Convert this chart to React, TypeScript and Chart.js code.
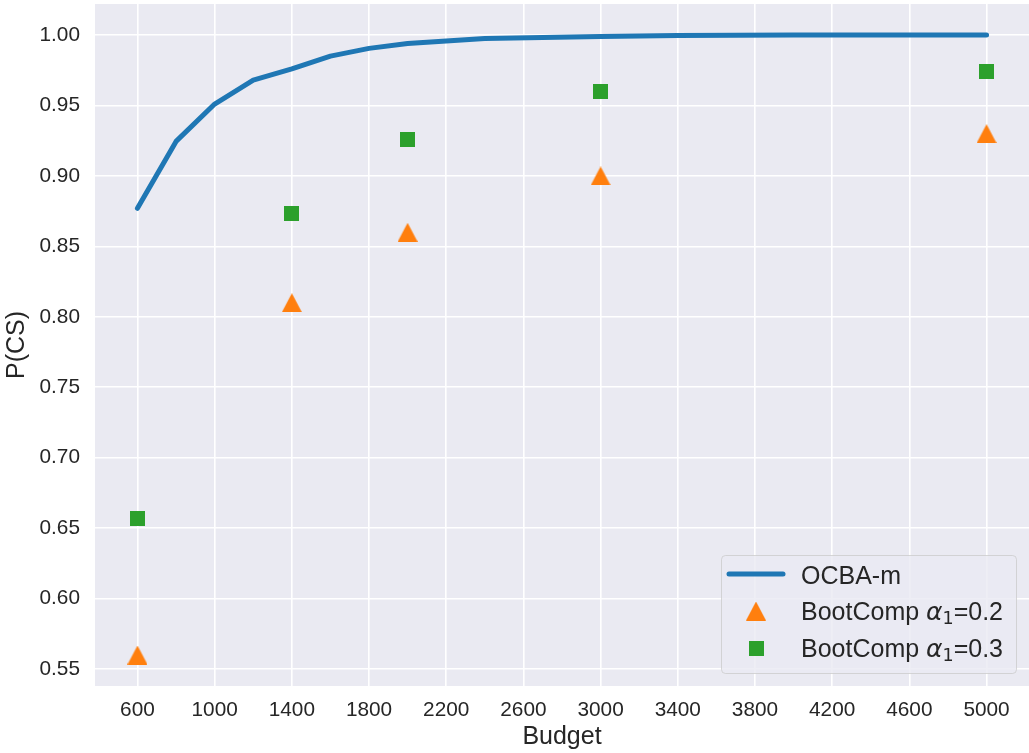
import React, { useEffect, useRef } from 'react';
import { Chart, registerables } from 'chart.js';

Chart.register(...registerables);

// ---- data ----
const ocbaBudgets = [600, 800, 1000, 1200, 1400, 1600, 1800, 2000, 2400, 3000, 3400, 4000, 5000];
const ocbaValues = [0.877, 0.9245, 0.951, 0.968, 0.976, 0.985, 0.9905, 0.994, 0.9975, 0.999, 0.9997, 1.0, 1.0];
const bootBudgets = [600, 1400, 2000, 3000, 5000];
const bootAlpha02 = [0.56, 0.81, 0.86, 0.9, 0.93];
const bootAlpha03 = [0.657, 0.873, 0.926, 0.96, 0.974];

const xTickValues = [600, 1000, 1400, 1800, 2200, 2600, 3000, 3400, 3800, 4200, 4600, 5000];
const xTickLabels = ['600', '1000', '1400', '1800', '2200', '2600', '3000', '3400', '3800', '4200', '4600', '5000'];
const yTickValues = [0.55, 0.6, 0.65, 0.7, 0.75, 0.8, 0.85, 0.9, 0.95, 1.0];
const yTickLabels = ['0.55', '0.60', '0.65', '0.70', '0.75', '0.80', '0.85', '0.90', '0.95', '1.00'];

const seriesNames = ['OCBA-m', 'BootComp α₁=0.2', 'BootComp α₁=0.3'];
const legendPre = ['OCBA-m', 'BootComp ', 'BootComp '];
const legendGreek = ['', 'α', 'α'];
const legendSub = ['', '1', '1'];
const legendPost = ['', '=0.2', '=0.3'];

const xTitle = 'Budget';
const yTitle = 'P(CS)';

const BLUE = '#1f77b4';
const ORANGE = '#ff7f0e';
const GREEN = '#2ca02c';
const TEXT = '#262626';
const FONT = '"Liberation Sans", Arial, sans-serif';
const TICK_SIZE = 20.8;
const LABEL_SIZE = 25;

function makeTriangle(color: string) {
  const c = document.createElement('canvas');
  c.width = 20;
  c.height = 19;
  const g = c.getContext('2d')!;
  g.fillStyle = color;
  g.beginPath();
  g.moveTo(10, 0);
  g.lineTo(20, 19);
  g.lineTo(0, 19);
  g.closePath();
  g.fill();
  return c;
}

function makeSquare(color: string) {
  const c = document.createElement('canvas');
  c.width = 15;
  c.height = 15;
  const g = c.getContext('2d')!;
  g.fillStyle = color;
  g.fillRect(0, 0, 15, 15);
  return c;
}

function zeroPad(s: any) {
  s.paddingTop = 0;
  s.paddingBottom = 0;
  s.paddingLeft = 0;
  s.paddingRight = 0;
}

export default function App() {
  const ref = useRef<HTMLCanvasElement>(null);

  useEffect(() => {
    const canvas = ref.current!;
    const tri = makeTriangle(ORANGE);
    const sq = makeSquare(GREEN);

    const bgPlugin = {
      id: 'bgPlugin',
      beforeDraw(chart: any) {
        const { ctx, chartArea } = chart;
        ctx.save();
        ctx.fillStyle = '#ffffff';
        ctx.fillRect(0, 0, chart.width, chart.height);
        ctx.fillStyle = '#EAEAF2';
        ctx.fillRect(chartArea.left, chartArea.top, chartArea.right - chartArea.left, chartArea.bottom - chartArea.top);
        ctx.restore();
      },
    };

    const legendPlugin = {
      id: 'mplLegend',
      afterDraw(chart: any) {
        const { ctx, chartArea } = chart;
        const bw = 295;
        const bh = 118;
        const bx = chartArea.right - 13 - bw;
        const by = chartArea.bottom - 13 - bh;
        ctx.save();
        ctx.beginPath();
        (ctx as any).roundRect(bx + 0.5, by + 0.5, bw, bh, 4);
        ctx.fillStyle = 'rgba(234,234,242,0.8)';
        ctx.fill();
        ctx.strokeStyle = 'rgba(204,204,204,0.8)';
        ctx.lineWidth = 1;
        ctx.stroke();

        const rowY = [by + 20, by + 56, by + 93];
        const handleX = bx + 35;
        const textX = bx + 80;
        for (let i = 0; i < 3; i++) {
          const cy = rowY[i];
          if (i === 0) {
            ctx.beginPath();
            ctx.moveTo(handleX - 27, cy - 1);
            ctx.lineTo(handleX + 27, cy - 1);
            ctx.strokeStyle = BLUE;
            ctx.lineWidth = 5;
            ctx.lineCap = 'round';
            ctx.stroke();
          } else if (i === 1) {
            ctx.drawImage(tri, handleX - tri.width / 2, cy - tri.height / 2);
          } else {
            ctx.drawImage(sq, handleX - sq.width / 2, cy - sq.height / 2);
          }
          const base = cy + 9;
          ctx.fillStyle = TEXT;
          ctx.textBaseline = 'alphabetic';
          ctx.textAlign = 'left';
          let x = textX;
          ctx.font = `${LABEL_SIZE}px ${FONT}`;
          ctx.fillText(legendPre[i], x, base);
          x += ctx.measureText(legendPre[i]).width;
          if (legendGreek[i]) {
            ctx.font = `italic ${LABEL_SIZE}px "DejaVu Sans", sans-serif`;
            ctx.fillText(legendGreek[i], x, base);
            x += ctx.measureText(legendGreek[i]).width;
            ctx.font = `17.5px "DejaVu Sans", sans-serif`;
            ctx.fillText(legendSub[i], x, base + 4);
            x += ctx.measureText(legendSub[i]).width;
            ctx.font = `${LABEL_SIZE}px ${FONT}`;
            ctx.fillText(legendPost[i], x, base);
          }
        }
        ctx.restore();
      },
    };

    const chart = new Chart(canvas, {
      type: 'scatter',
      data: {
        datasets: [
          {
            label: seriesNames[0],
            data: ocbaBudgets.map((b, i) => ({ x: b, y: ocbaValues[i] })),
            showLine: true,
            borderColor: BLUE,
            backgroundColor: BLUE,
            borderWidth: 5,
            borderCapStyle: 'round',
            borderJoinStyle: 'round',
            pointRadius: 0,
            pointHoverRadius: 0,
            tension: 0,
          } as any,
          {
            label: seriesNames[1],
            data: bootBudgets.map((b, i) => ({ x: b, y: bootAlpha02[i] })),
            pointStyle: tri,
            pointRadius: 10,
            backgroundColor: ORANGE,
            borderColor: ORANGE,
          } as any,
          {
            label: seriesNames[2],
            data: bootBudgets.map((b, i) => ({ x: b, y: bootAlpha03[i] })),
            pointStyle: sq,
            pointRadius: 8,
            backgroundColor: GREEN,
            borderColor: GREEN,
          } as any,
        ],
      },
      options: {
        responsive: false,
        animation: false,
        events: [],
        layout: { autoPadding: false, padding: { top: 4, right: 0, bottom: 0, left: 0 } },
        plugins: {
          legend: { display: false },
          tooltip: { enabled: false },
        },
        scales: {
          x: {
            type: 'linear',
            min: 380,
            max: 5220,
            afterBuildTicks: (s: any) => {
              s.ticks = xTickValues.map((v) => ({ value: v }));
            },
            afterFit: (s: any) => {
              s.height = 67;
              zeroPad(s);
            },
            ticks: {
              callback: (_v: any, i: number) => xTickLabels[i],
              font: { size: TICK_SIZE, family: FONT },
              color: TEXT,
              padding: 12,
              maxRotation: 0,
              autoSkip: false,
            },
            grid: { color: '#ffffff', lineWidth: 1.6, drawTicks: false },
            border: { display: false },
            title: {
              display: true,
              text: xTitle,
              font: { size: LABEL_SIZE, family: FONT },
              color: TEXT,
              padding: { top: 0, bottom: 1 },
            },
          },
          y: {
            type: 'linear',
            min: 0.538,
            max: 1.022,
            afterBuildTicks: (s: any) => {
              s.ticks = yTickValues.map((v) => ({ value: v }));
            },
            afterFit: (s: any) => {
              s.width = 95;
              zeroPad(s);
            },
            ticks: {
              callback: (_v: any, i: number) => yTickLabels[i],
              font: { size: TICK_SIZE, family: FONT },
              color: TEXT,
              padding: 15,
              autoSkip: false,
            },
            grid: { color: '#ffffff', lineWidth: 1.6, drawTicks: false },
            border: { display: false },
            title: {
              display: true,
              text: yTitle,
              font: { size: LABEL_SIZE, family: FONT },
              color: TEXT,
              padding: { top: 2, bottom: 0 },
            },
          },
        },
      } as any,
      plugins: [bgPlugin, legendPlugin],
    });

    return () => chart.destroy();
  }, []);

  return (
    <div style={{ position: 'fixed', left: 0, top: 0, width: 1029, height: 753, background: '#ffffff' }}>
      <canvas ref={ref} width={1029} height={753} style={{ display: 'block' }} />
    </div>
  );
}
